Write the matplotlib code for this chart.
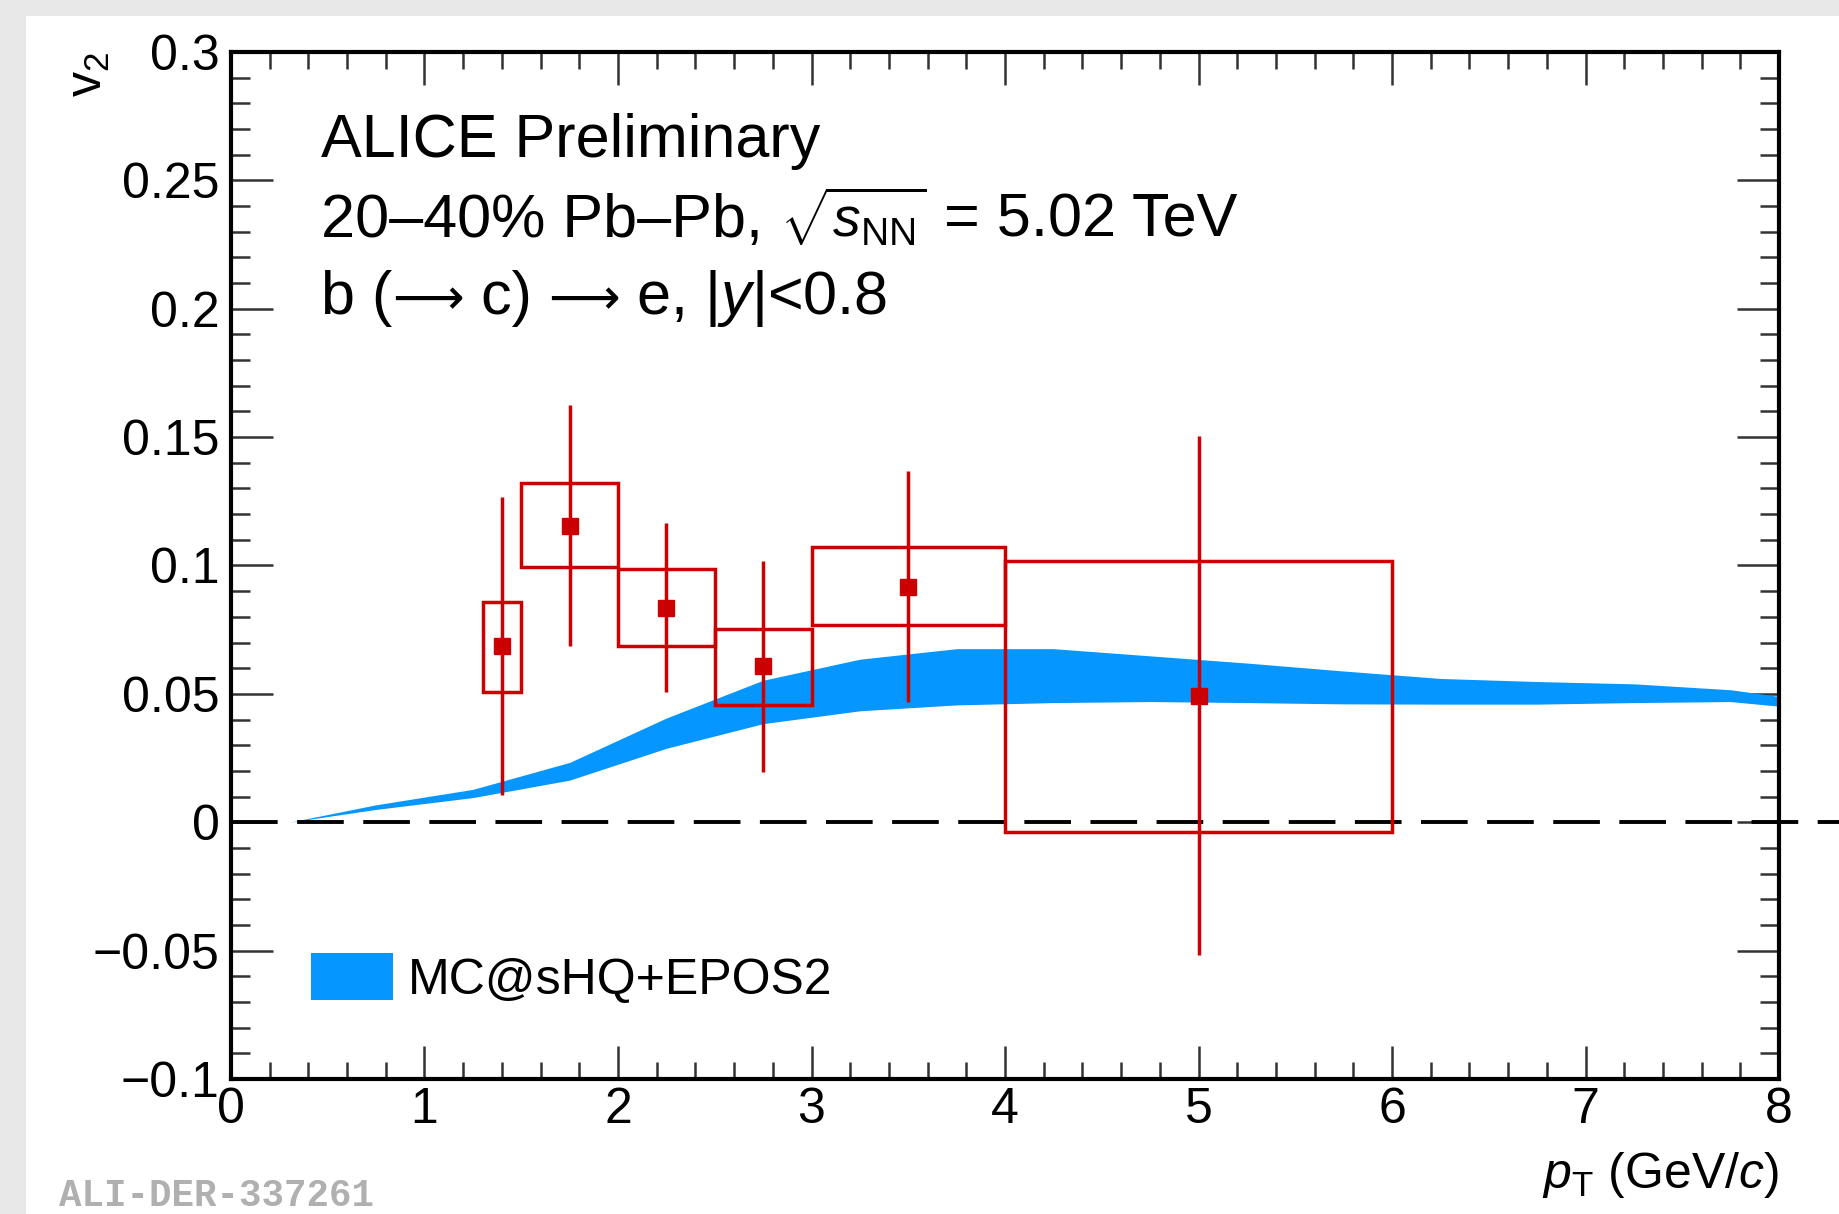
import numpy as np
import matplotlib
matplotlib.use("Agg")
from matplotlib import pyplot as plt
from matplotlib.patches import Rectangle, Patch
from matplotlib.ticker import MultipleLocator

plt.rcParams['font.family'] = ['Liberation Sans', 'DejaVu Sans']
plt.rcParams['mathtext.fontset'] = 'custom'
plt.rcParams['mathtext.rm'] = 'Liberation Sans'
plt.rcParams['mathtext.it'] = 'Liberation Sans:italic'
plt.rcParams['mathtext.bf'] = 'Liberation Sans:bold'

# b(->c)->e v2 data
pt = [1.4, 1.75, 2.25, 2.75, 3.5, 5.0]
v2 = [0.0685, 0.1155, 0.0836, 0.0607, 0.0918, 0.0493]
stat_lo = [0.058, 0.047, 0.033, 0.041, 0.045, 0.101]
stat_hi = [0.058, 0.047, 0.033, 0.041, 0.045, 0.101]
sys_xlo = [1.3, 1.5, 2.0, 2.5, 3.0, 4.0]
sys_xhi = [1.5, 2.0, 2.5, 3.0, 4.0, 6.0]
sys_ylo = [0.0507, 0.0995, 0.0685, 0.0457, 0.0767, -0.0037]
sys_yhi = [0.0858, 0.1320, 0.0986, 0.0753, 0.1073, 0.1018]

# MC@sHQ+EPOS2 band
mc_pt = [0.3, 0.75, 1.25, 1.75, 2.25, 2.75, 3.25, 3.75, 4.25, 4.75, 5.25, 5.75, 6.25, 6.75, 7.25, 7.75, 8.0]
mc_hi = [0.0, 0.0068, 0.0128, 0.0233, 0.0406, 0.0553, 0.0635, 0.0676, 0.0676, 0.0648, 0.0620, 0.0589, 0.0560, 0.0548, 0.0539, 0.0516, 0.0490]
mc_lo = [0.0, 0.0050, 0.0096, 0.0164, 0.0288, 0.0384, 0.0434, 0.0457, 0.0466, 0.0470, 0.0466, 0.0461, 0.0460, 0.0460, 0.0466, 0.0470, 0.0452]

yticks = [-0.1, -0.05, 0, 0.05, 0.1, 0.15, 0.2, 0.25, 0.3]
ytick_labels = ['\u22120.1', '\u22120.05', '0', '0.05', '0.1', '0.15', '0.2', '0.25', '0.3']
xticks = [0, 1, 2, 3, 4, 5, 6, 7, 8]

red = '#cc0000'
blue = '#0596ff'

fig = plt.figure(figsize=(18.39, 12.14), dpi=100)
fig.patch.set_facecolor('#e8e8e8')
fig.add_artist(Rectangle((26/1839, 0), 1, 1 - 16/1214, transform=fig.transFigure,
                         facecolor='white', edgecolor='none', zorder=-10))
ax = fig.add_axes([0.1256, 0.1112, 0.9674 - 0.1256, 0.9572 - 0.1112])
ax.set_facecolor('white')

ax.fill_between(mc_pt, mc_lo, mc_hi, color=blue, lw=0, zorder=2)

ax.plot([0, 8.4], [0, 0], color='black', lw=2.8, ls=(0, (12, 5)), clip_on=False, zorder=3)

for xl, xh, yl, yh in zip(sys_xlo, sys_xhi, sys_ylo, sys_yhi):
    ax.add_patch(Rectangle((xl, yl), xh - xl, yh - yl, fill=False,
                           edgecolor=red, lw=2.5, zorder=4))
ax.errorbar(pt, v2, yerr=[stat_lo, stat_hi], fmt='s', color=red, ms=11,
            elinewidth=2.5, capsize=0, zorder=5)

ax.set_xlim(0, 8)
ax.set_ylim(-0.1, 0.3)
ax.set_xticks(xticks)
ax.set_xticklabels([str(t) for t in xticks])
ax.set_yticks(yticks)
ax.set_yticklabels(ytick_labels)
ax.xaxis.set_minor_locator(MultipleLocator(0.2))
ax.yaxis.set_minor_locator(MultipleLocator(0.01))
ax.tick_params(which='both', direction='in', top=True, right=True, width=1.8, colors='#333333',
               labelcolor='black', labelsize=36)
ax.tick_params(axis='x', which='major', length=24, pad=6)
ax.tick_params(axis='x', which='minor', length=12)
ax.tick_params(axis='y', which='major', length=30, pad=8)
ax.tick_params(axis='y', which='minor', length=14)
for s in ax.spines.values():
    s.set_linewidth(3)

ax.set_xlabel(r'$p_{\rm T}$ (GeV/$c$)', fontsize=36, loc='right', labelpad=12)
ax.set_ylabel(r'$\mathregular{v_2}$', fontsize=36, loc='top', labelpad=-14)


def text_chain(ax, x, y, pieces):
    # pieces: list of (string, fontsize, family) drawn one after another on one baseline
    prev = None
    for s, fs, fam in pieces:
        if prev is None:
            prev = ax.text(x, y, s, transform=ax.transAxes, fontsize=fs, family=fam,
                           va='baseline')
        else:
            prev = ax.annotate(s, xy=(1, y), xycoords=(prev, 'axes fraction'),
                               fontsize=fs, family=fam, va='baseline', ha='left')
    return prev


sans = ['Liberation Sans', 'DejaVu Sans']
arrow = ['DejaVu Sans']
ax.text(0.058, 0.898, 'ALICE Preliminary', transform=ax.transAxes, fontsize=44, va='baseline')
text_chain(ax, 0.058, 0.820, [('20–40% Pb–Pb, ', 44, sans),
                              (r'$\sqrt{s_{\rm NN}}$', 40, sans),
                              (' = 5.02 TeV', 44, sans)])
text_chain(ax, 0.058, 0.745, [('b (', 44, sans), ('\u27f6', 36, arrow),
                              (' c) ', 44, sans), ('\u27f6', 36, arrow),
                              (' e, |$y$|<0.8', 44, sans)])

ax.legend(handles=[Patch(facecolor=blue, edgecolor='none', label='MC@sHQ+EPOS2')],
          loc='center left', bbox_to_anchor=(0.0515, 0.098), frameon=False,
          fontsize=36, handlelength=1.64, handleheight=1.06, handletextpad=0.3,
          borderpad=0, borderaxespad=0)

fig.text(59/1839, 0.0, 'ALI-DER-337261', family='Liberation Mono', weight='bold',
         fontsize=27, color='#b0b0b0', va='bottom')

fig.savefig('out.png', dpi=100, facecolor=fig.get_facecolor())
